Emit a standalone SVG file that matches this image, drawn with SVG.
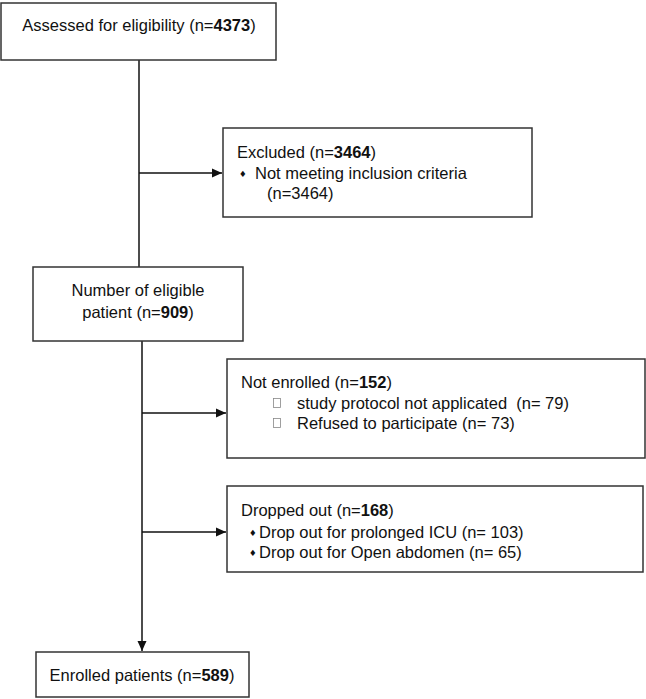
<svg xmlns="http://www.w3.org/2000/svg" width="646" height="699" viewBox="0 0 646 699">
<style>
.box{fill:#fff;stroke:#333;stroke-width:1.5}
.t{font-family:"Liberation Sans",Arial,sans-serif;font-size:16.5px;fill:#111;white-space:pre}
.c{text-anchor:middle}
.b{font-weight:bold}
.ln{stroke:#111;stroke-width:1.5;fill:none}
.dia{font-family:"DejaVu Sans",sans-serif;font-size:8.5px;fill:#111}
.sq{fill:#fff;stroke:#888;stroke-width:0.8}
</style>
<defs>
<marker id="ah" markerWidth="10" markerHeight="10" refX="10" refY="5" orient="auto" markerUnits="userSpaceOnUse">
<path d="M0,0.5 L10,5 L0,9.5 Z" fill="#111"/>
</marker>
</defs>
<rect width="646" height="699" fill="#fff"/>
<g id="connectors">
<line class="ln" x1="139" y1="60" x2="139" y2="267"/>
<line class="ln" x1="139" y1="173" x2="222" y2="173" marker-end="url(#ah)"/>
<line class="ln" x1="142" y1="341" x2="142" y2="651" marker-end="url(#ah)"/>
<line class="ln" x1="142" y1="413" x2="226" y2="413" marker-end="url(#ah)"/>
<line class="ln" x1="142" y1="532" x2="226" y2="532" marker-end="url(#ah)"/>
</g>
<g id="assessed">
<rect class="box" x="1" y="3" width="275" height="57"/>
<text class="t c" x="139" y="31">Assessed for eligibility (n=<tspan class="b">4373</tspan>)</text>
</g>
<g id="excluded">
<rect class="box" x="223" y="128" width="309" height="89"/>
<text class="t" x="237" y="158">Excluded (n=<tspan class="b">3464</tspan>)</text>
<text class="dia" x="239" y="177">♦</text>
<text class="t" x="255" y="179">Not meeting inclusion criteria</text>
<text class="t" x="267" y="199">(n=3464)</text>
</g>
<g id="eligible">
<rect class="box" x="33" y="267" width="210" height="74"/>
<text class="t c" x="138" y="296">Number of eligible</text>
<text class="t c" x="138" y="318">patient (n=<tspan class="b">909</tspan>)</text>
</g>
<g id="not-enrolled">
<rect class="box" x="227" y="359" width="418" height="99"/>
<text class="t" x="241" y="388">Not enrolled (n=<tspan class="b">152</tspan>)</text>
<rect class="sq" x="273.5" y="398.5" width="7" height="9"/>
<text class="t" x="297" y="409" xml:space="preserve">study protocol not applicated  (n= 79)</text>
<rect class="sq" x="273.5" y="418.5" width="7" height="9"/>
<text class="t" x="297" y="429">Refused to participate (n= 73)</text>
</g>
<g id="dropped">
<rect class="box" x="227" y="486" width="416" height="86"/>
<text class="t" x="241" y="516">Dropped out (n=<tspan class="b">168</tspan>)</text>
<text class="dia" x="249" y="536">♦</text>
<text class="t" x="259" y="538">Drop out for prolonged ICU (n= 103)</text>
<text class="dia" x="249" y="556">♦</text>
<text class="t" x="259" y="558">Drop out for Open abdomen (n= 65)</text>
</g>
<g id="enrolled">
<rect class="box" x="36" y="652" width="213" height="45"/>
<text class="t c" x="142" y="681">Enrolled patients (n=<tspan class="b">589</tspan>)</text>
</g>
</svg>
